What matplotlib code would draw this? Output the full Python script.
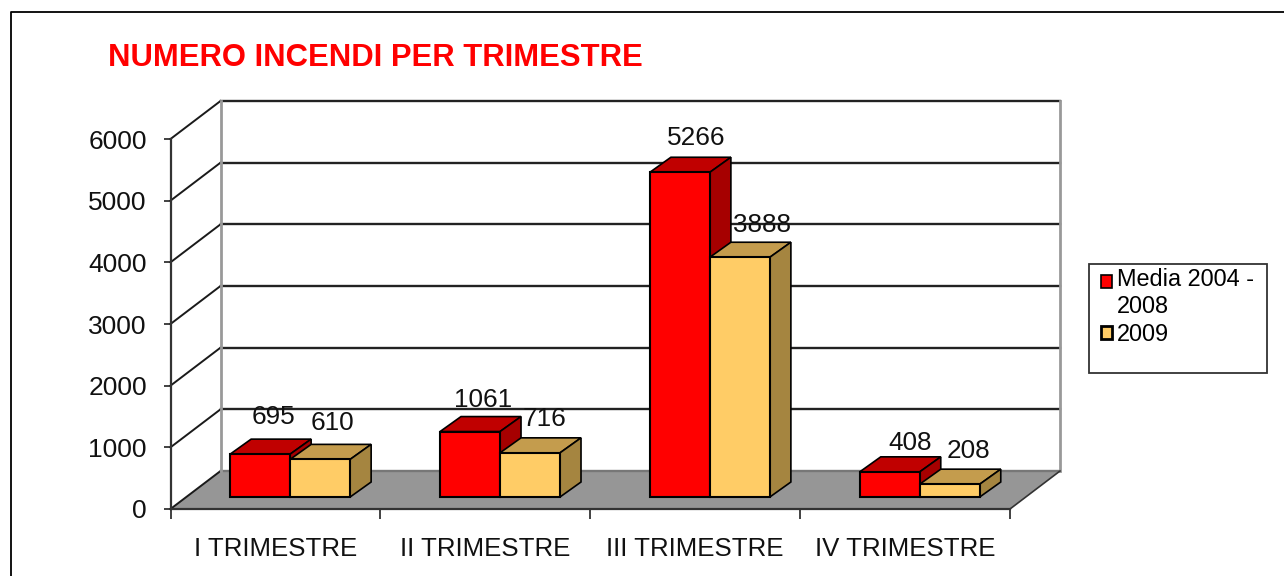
import matplotlib
matplotlib.use("Agg")
import matplotlib.pyplot as plt
from matplotlib.lines import Line2D
from matplotlib.patches import Polygon, Rectangle, Patch
from matplotlib.transforms import Affine2D

categories = ["I TRIMESTRE", "II TRIMESTRE", "III TRIMESTRE", "IV TRIMESTRE"]
media_2004_2008 = [695, 1061, 5266, 408]
anno_2009 = [610, 716, 3888, 208]
y_ticks = [0, 1000, 2000, 3000, 4000, 5000, 6000]
series_names = ["Media 2004 -\n2008", "2009"]
title = "NUMERO INCENDI PER TRIMESTRE"

plt.rcParams["font.family"] = ["Liberation Sans", "DejaVu Sans"]
W, H = 1284, 576
L, R, T, B = 170.5, 1010, 139, 509
fig = plt.figure(figsize=(W / 100, H / 100), dpi=100, facecolor="white")
ax = fig.add_axes([L / W, 1 - B / H, (R - L) / W, (B - T) / H])
ax.set_xlim(0, 4)
ax.set_ylim(0, 6000)
ax.patch.set_visible(False)
ux = 4 / (R - L)      # data units per pixel
uy = 6000 / (B - T)
WALL_DX, WALL_DY = 50, 38


def off(x, y, dx, dy):
    return (x + dx * ux, y + dy * uy)


# floor
ax.add_patch(Polygon([(0, 0), (4, 0), off(4, 0, WALL_DX, WALL_DY), off(0, 0, WALL_DX, WALL_DY)],
                     closed=True, facecolor="#969696", edgecolor="none", clip_on=False, zorder=1))
# gridlines with side wall diagonals
for v in y_ticks:
    ax.plot([0, off(0, 0, WALL_DX, 0)[0]], [v, off(0, v, 0, WALL_DY)[1]],
            color="#1a1a1a", lw=1.4, clip_on=False, zorder=2)
    ax.plot([off(0, 0, WALL_DX, 0)[0], off(4, 0, WALL_DX, 0)[0]],
            [off(0, v, 0, WALL_DY)[1]] * 2, color="#222222" if v else "#777777", lw=1.7,
            clip_on=False, zorder=2)
# back wall verticals
for xv in (0, 4):
    xb = off(xv, 0, WALL_DX, 0)[0]
    ax.plot([xb, xb], [off(0, 0, 0, WALL_DY)[1], off(0, 6000, 0, WALL_DY)[1]],
            color="#999999", lw=2, clip_on=False, zorder=2)
ax.plot([off(4, 0, 0, 0)[0], off(4, 0, WALL_DX, 0)[0]], [0, off(0, 0, 0, WALL_DY)[1]],
        color="#333333", lw=1.2, clip_on=False, zorder=2)

# bars
BW = 60 * ux
SHIFT = (14.7, 12)
DEPTH = (21, 15)
styles = [("#FF0000", "#C00000", "#A60000"), ("#FFCC66", "#C49C4D", "#A58540")]
px_shift = ax.transData + Affine2D().translate(*SHIFT)
for k, vals in enumerate((media_2004_2008, anno_2009)):
    front, top, side = styles[k]
    for i, v in enumerate(vals):
        x0 = i + 0.5 - BW + k * BW
        z = 4 + 2 * i + k
        ax.bar(x0, v, BW, align="edge", color=front, edgecolor="black", lw=1.5,
               transform=px_shift, clip_on=False, zorder=z + 0.5)
        s = lambda x, y, d=0: off(x, y, SHIFT[0] + d * DEPTH[0], SHIFT[1] + d * DEPTH[1])
        ax.add_patch(Polygon([s(x0, v), s(x0 + BW, v), s(x0 + BW, v, 1), s(x0, v, 1)], closed=True,
                             facecolor=top, edgecolor="black", lw=1.2, clip_on=False, zorder=z))
        ax.add_patch(Polygon([s(x0 + BW, 0), s(x0 + BW, v), s(x0 + BW, v, 1), s(x0 + BW, 0, 1)], closed=True,
                             facecolor=side, edgecolor="black", lw=1.2, clip_on=False, zorder=z))

# value labels (pixel offset of label centre from top-front of bar centre)
label_offsets = [[(13.5, 37), (13.5, 32), (16.8, 34), (20, 29)],
                 [(12.5, 36), (14.5, 34), (21.8, 32), (19, 33)]]
for k, vals in enumerate((media_2004_2008, anno_2009)):
    for i, v in enumerate(vals):
        xc = i + 0.5 - BW / 2 + k * BW
        ox, oy = label_offsets[k][i]
        ax.annotate(str(v), (xc, v), xytext=(SHIFT[0] + ox, SHIFT[1] + oy), textcoords="offset pixels",
                    ha="center", va="center", fontsize=18.8, color="#111111", zorder=30, annotation_clip=False)

# axes
for sp in ("top", "right"):
    ax.spines[sp].set_visible(False)
for sp in ("left", "bottom"):
    ax.spines[sp].set_color("#333333")
    ax.spines[sp].set_linewidth(1.6)
    ax.spines[sp].set_zorder(3)
ax.set_yticks(y_ticks)
ax.set_yticklabels([str(v) for v in y_ticks], fontsize=19, color="#111111")
ax.tick_params(axis="y", length=5, width=1.3, color="#333333", pad=12)
ax.set_xticks([0, 1, 2, 3, 4])
ax.set_xticklabels([])
ax.set_xticks([0.5, 1.5, 2.5, 3.5], minor=True)
ax.set_xticklabels(categories, minor=True, fontsize=18.6, color="#111111")
ax.tick_params(axis="x", which="major", length=7, width=1.3, color="#333333")
ax.tick_params(axis="x", which="minor", length=0, pad=20)

# title
fig.text(108 / W, 1 - 58.5 / H, title, color="#FF0000", fontsize=22.3, fontweight="bold",
         ha="left", va="center")

# legend box and legend
fig.add_artist(Rectangle((1089 / W, 1 - 373 / H), 178 / W, 109 / H, transform=fig.transFigure,
                         facecolor="white", edgecolor="#333333", lw=1.3))
handles = [Patch(facecolor=styles[0][0], edgecolor="black", lw=1.2),
           Patch(facecolor=styles[1][0], edgecolor="black", lw=2.0)]
leg = fig.legend(handles, series_names, loc="upper left", bbox_to_anchor=(1093 / W, 1 - 260 / H),
                 frameon=False, fontsize=16.9, handlelength=0.47, handleheight=0.47, handletextpad=0.215,
                 labelspacing=0.2, borderpad=0.35, borderaxespad=0)
# first swatch sits beside the first line of its two-line label
first = leg.legend_handles[0]
first.set_y(first.get_y() + 9)

# outer border
fig.add_artist(Line2D([11 / W, 11 / W, 1], [0, 1 - 11.5 / H, 1 - 11.5 / H], transform=fig.transFigure,
                      color="black", lw=1.3))
fig.savefig("out.png", dpi=100)
